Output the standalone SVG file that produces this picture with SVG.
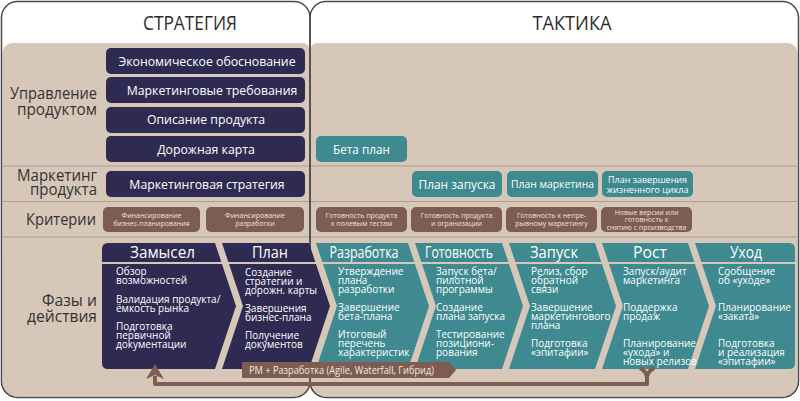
<svg xmlns="http://www.w3.org/2000/svg" width="800" height="401" viewBox="0 0 800 401">
<style>
text{font-family:"Open Sans","Noto Sans","DejaVu Sans",sans-serif}
.hdr{font-size:19.5px;fill:#2b2b2b;text-anchor:middle}
.lbl{font-size:16.5px;fill:#333;text-anchor:end}
.nv{fill:#2f2a52}
.tl{fill:#3e8a90}
.br{fill:#7d5d52}
.bt{fill:#fff;font-size:12.3px;text-anchor:middle}
.ct{fill:#efe2d9;font-size:7px;text-anchor:middle}
.ph{fill:#fff;font-size:16px;text-anchor:middle}
.bd{fill:#fff;font-size:10px}
.div{stroke:#ab9d90;stroke-width:1.2}
</style>
<rect width="800" height="401" fill="#fff"/>
<g id="frames">
<path d="M2.5,43 H303 Q309.3,43 309.3,51 V383 Q309.3,396.5 295,396.5 H17 Q2.5,396.5 2.5,383 V55 Q2.5,43 14,43 Z" fill="#d6c7b9"/>
<path d="M310.7,51 Q310.7,43 317,43 H786 Q797.5,43 797.5,55 V383 Q797.5,396.5 783,396.5 H325 Q310.7,396.5 310.7,383 Z" fill="#d6c7b9"/>
<line class="div" x1="2.5" y1="166" x2="797.5" y2="166"/>
<line class="div" x1="2.5" y1="201.5" x2="797.5" y2="201.5"/>
<line class="div" x1="2.5" y1="237" x2="797.5" y2="237"/>
<rect x="1.5" y="1.5" width="308.5" height="396" rx="16" fill="none" stroke="#4a4a4a" stroke-width="1.5"/>
<rect x="310" y="1.5" width="488.5" height="396" rx="16" fill="none" stroke="#4a4a4a" stroke-width="1.5"/>
<text class="hdr" x="190" y="30" textLength="94" lengthAdjust="spacingAndGlyphs">СТРАТЕГИЯ</text>
<text class="hdr" x="572" y="30" textLength="79" lengthAdjust="spacingAndGlyphs">ТАКТИКА</text>
</g>
<g id="row-labels">
<text class="lbl" x="97" y="99" textLength="87" lengthAdjust="spacingAndGlyphs">Управление</text>
<text class="lbl" x="97" y="115" textLength="80" lengthAdjust="spacingAndGlyphs">продуктом</text>
<text class="lbl" x="97" y="181" textLength="80" lengthAdjust="spacingAndGlyphs">Маркетинг</text>
<text class="lbl" x="97" y="195" textLength="67" lengthAdjust="spacingAndGlyphs">продукта</text>
<text class="lbl" x="96" y="225" textLength="70" lengthAdjust="spacingAndGlyphs">Критерии</text>
<text class="lbl" x="97" y="306" textLength="55" lengthAdjust="spacingAndGlyphs">Фазы и</text>
<text class="lbl" x="97" y="322" textLength="70" lengthAdjust="spacingAndGlyphs">действия</text>
</g>
<g id="n-econ"><rect class="nv" x="106" y="48" width="199" height="26" rx="5"/><text class="bt" x="207" y="65.5">Экономическое обоснование</text></g>
<g id="n-mreq"><rect class="nv" x="106" y="77" width="199" height="26" rx="5"/><text class="bt" x="212" y="94.5">Маркетинговые требования</text></g>
<g id="n-desc"><rect class="nv" x="106" y="107" width="199" height="26" rx="5"/><text class="bt" x="206" y="124">Описание продукта</text></g>
<g id="n-road"><rect class="nv" x="106" y="136" width="199" height="26" rx="5"/><text class="bt" x="206" y="153.5">Дорожная карта</text></g>
<g id="n-mstrat"><rect class="nv" x="106" y="171" width="199" height="26" rx="5"/><text class="bt" x="207" y="188.5">Маркетинговая стратегия</text></g>
<g id="n-beta"><rect class="tl" x="316" y="136" width="91" height="26" rx="5"/><text class="bt" x="361.5" y="153.5" style="font-size:12.5px" textLength="57" lengthAdjust="spacingAndGlyphs">Бета план</text></g>
<g id="n-launch"><rect class="tl" x="412" y="171" width="90" height="26" rx="5"/><text class="bt" x="457" y="189" style="font-size:13.5px" textLength="77" lengthAdjust="spacingAndGlyphs">План запуска</text></g>
<g id="n-mplan"><rect class="tl" x="507" y="171" width="91" height="26" rx="5"/><text class="bt" x="552.5" y="188" style="font-size:11.5px" textLength="83" lengthAdjust="spacingAndGlyphs">План маркетина</text></g>
<g id="n-eol"><rect class="tl" x="602" y="171" width="91" height="26" rx="5"/><text class="bt" x="647.5" y="183" style="font-size:9.3px" textLength="79" lengthAdjust="spacingAndGlyphs">План завершения</text><text class="bt" x="647.5" y="192.5" style="font-size:9.3px" textLength="82" lengthAdjust="spacingAndGlyphs">жизненного цикла</text></g>
<g id="c1"><rect class="br" x="103" y="207" width="97" height="25" rx="5"/><text class="ct" x="151.5" y="218">Финансирование</text><text class="ct" x="151.5" y="226">бизнес-планирования</text></g>
<g id="c2"><rect class="br" x="206" y="207" width="98" height="25" rx="5"/><text class="ct" x="255" y="218">Финансирование</text><text class="ct" x="255" y="226">разработки</text></g>
<g id="c3"><rect class="br" x="316" y="207" width="91" height="25" rx="5"/><text class="ct" x="361.5" y="218">Готовность продукта</text><text class="ct" x="361.5" y="226">к полевым тестам</text></g>
<g id="c4"><rect class="br" x="411" y="207" width="91" height="25" rx="5"/><text class="ct" x="456.5" y="218">Готовность продукта</text><text class="ct" x="456.5" y="226">и огранизации</text></g>
<g id="c5"><rect class="br" x="506" y="207" width="91" height="25" rx="5"/><text class="ct" x="551.5" y="218">Готовность к непре-</text><text class="ct" x="551.5" y="226">рывному маркетингу</text></g>
<g id="c6"><rect class="br" x="601" y="207" width="91" height="25" rx="5"/><text class="ct" x="646.5" y="214.5">Новые версии или</text><text class="ct" x="646.5" y="222">готовность к</text><text class="ct" x="646.5" y="229.5">снятию с производства</text></g>
<g id="p1"><path class="nv" d="M108,243 H215 L236,306 L215,369 H108 Q102,369 102,363 V249 Q102,243 108,243 Z"/><text class="ph" x="162.5" y="258" textLength="65" lengthAdjust="spacingAndGlyphs">Замысел</text>
<text class="bd"><tspan x="116" y="275">Обзор</tspan><tspan x="116" y="284">возможностей</tspan><tspan x="116" y="303">Валидация продукта/</tspan><tspan x="116" y="312">ёмкость рынка</tspan><tspan x="116" y="330">Подготовка</tspan><tspan x="116" y="339">первичной</tspan><tspan x="116" y="348">документации</tspan></text></g>
<g id="p2"><path class="nv" d="M222,243 H309 L330,306 L309,369 H222 L243,306 Z"/><text class="ph" x="270" y="258" textLength="36" lengthAdjust="spacingAndGlyphs">План</text>
<text class="bd"><tspan x="245" y="276">Создание</tspan><tspan x="245" y="285">стратегии и</tspan><tspan x="245" y="294">дорожн. карты</tspan><tspan x="245" y="312">Завершения</tspan><tspan x="245" y="321">бизнес-плана</tspan><tspan x="245" y="339">Получение</tspan><tspan x="245" y="348">документов</tspan></text></g>
<g id="p3"><path class="tl" d="M316,243 H408 L429,306 L408,369 H316 L337,306 Z"/><text class="ph" x="364" y="258" textLength="69" lengthAdjust="spacingAndGlyphs">Разработка</text>
<text class="bd"><tspan x="338" y="275">Утверждение</tspan><tspan x="338" y="284">плана</tspan><tspan x="338" y="293">разработки</tspan><tspan x="338" y="311">Завершение</tspan><tspan x="338" y="320">бета-плана</tspan><tspan x="338" y="338">Итоговый</tspan><tspan x="338" y="347">перечень</tspan><tspan x="338" y="356">характеристик</tspan></text></g>
<g id="p4"><path class="tl" d="M415,243 H502 L523,306 L502,369 H415 L436,306 Z"/><text class="ph" x="459" y="258" textLength="68" lengthAdjust="spacingAndGlyphs">Готовность</text>
<text class="bd"><tspan x="436" y="275">Запуск бета/</tspan><tspan x="436" y="284">пилотной</tspan><tspan x="436" y="293">программы</tspan><tspan x="436" y="311">Создание</tspan><tspan x="436" y="320">плана запуска</tspan><tspan x="436" y="338">Тестирование</tspan><tspan x="436" y="347">позициони-</tspan><tspan x="436" y="356">рования</tspan></text></g>
<g id="p5"><path class="tl" d="M509,243 H595 L616,306 L595,369 H509 L530,306 Z"/><text class="ph" x="554" y="258" textLength="48" lengthAdjust="spacingAndGlyphs">Запуск</text>
<text class="bd"><tspan x="531" y="275">Релиз, сбор</tspan><tspan x="531" y="284">обратной</tspan><tspan x="531" y="293">связи</tspan><tspan x="531" y="311">Завершение</tspan><tspan x="531" y="320">маркетингового</tspan><tspan x="531" y="329">плана</tspan><tspan x="531" y="347">Подготовка</tspan><tspan x="531" y="356">«эпитафии»</tspan></text></g>
<g id="p6"><path class="tl" d="M602,243 H688 L709,306 L688,369 H602 L623,306 Z"/><text class="ph" x="650" y="258" textLength="34" lengthAdjust="spacingAndGlyphs">Рост</text>
<text class="bd"><tspan x="623" y="275">Запуск/аудит</tspan><tspan x="623" y="284">маркетинга</tspan><tspan x="623" y="311">Поддержка</tspan><tspan x="623" y="320">продаж</tspan><tspan x="623" y="347">Планирование</tspan><tspan x="623" y="356">«ухода» и</tspan><tspan x="623" y="365">новых релизов</tspan></text></g>
<g id="p7"><path class="tl" d="M695,243 H789 Q795,243 795,249 V363 Q795,369 789,369 H695 L716,306 Z"/><text class="ph" x="746" y="258" textLength="32" lengthAdjust="spacingAndGlyphs">Уход</text>
<text class="bd"><tspan x="718" y="275">Сообщение</tspan><tspan x="718" y="284">об «уходе»</tspan><tspan x="718" y="311">Планирование</tspan><tspan x="718" y="320">«заката»</tspan><tspan x="718" y="347">Подготовка</tspan><tspan x="718" y="356">и реализация</tspan><tspan x="718" y="365">«эпитафии»</tspan></text></g>
<line x1="100" y1="263" x2="797" y2="263" stroke="#d6c7b9" stroke-width="2"/>
<g id="connectors">
<path d="M647,376 V384 H155 V376" fill="none" stroke="#7d5d52" stroke-width="4" stroke-linejoin="round"/>
<path d="M640,368 Q647,372 647,378 M654,368 Q647,372 647,378" fill="none" stroke="#7d5d52" stroke-width="4"/>
<path d="M155,364 Q159,371 164,379 L155,375 L146,379 Q151,371 155,364 Z" fill="#7d5d52"/>
</g>
<g id="n-pm"><path class="br" d="M242,362 H449 L456,370 L449,378 H242 Z"/><text x="249" y="374" style="font-size:10.5px;fill:#f3e9e3" textLength="185" lengthAdjust="spacingAndGlyphs">PM + Разработка (Agile, Waterfall, Гибрид)</text></g>
</svg>
